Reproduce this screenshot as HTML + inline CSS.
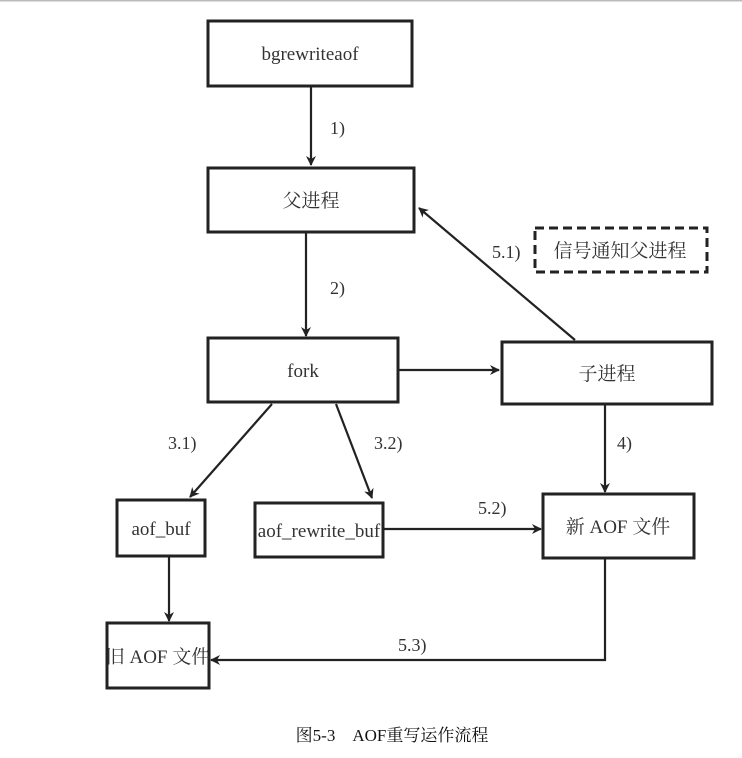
<!DOCTYPE html>
<html><head><meta charset="utf-8"><style>
body{margin:0;background:#fff;}
svg{display:block;}
text{font-family:"Liberation Serif","Noto Serif CJK SC",serif;fill:#333;}
</style></head><body>
<svg width="742" height="758" viewBox="0 0 742 758" xmlns="http://www.w3.org/2000/svg">
<defs>
<marker id="a" markerWidth="10" markerHeight="10" refX="9" refY="5" orient="auto" markerUnits="userSpaceOnUse">
<path d="M0,0 L10,5 L0,10 L3,5 Z" fill="#222"/></marker>
</defs>
<line x1="0" y1="0.5" x2="742" y2="0.5" stroke="#bbb" stroke-width="2"/>
<g fill="none" stroke="#222" stroke-width="3">
<rect x="208" y="21" width="204" height="65"/>
<rect x="208" y="168" width="206" height="64"/>
<rect x="208" y="338" width="190" height="64"/>
<rect x="502" y="342" width="210" height="62"/>
<rect x="117" y="500" width="88" height="56"/>
<rect x="255" y="503" width="128" height="54"/>
<rect x="543" y="494" width="151" height="64"/>
<rect x="107" y="623" width="102" height="65"/>
<rect x="535" y="228" width="172" height="44" stroke-dasharray="9,5"/>
</g>
<g stroke="#222" stroke-width="2.2" fill="none" marker-end="url(#a)">
<line x1="311" y1="86" x2="311" y2="165"/>
<line x1="306" y1="232" x2="306" y2="336"/>
<line x1="398" y1="370" x2="499" y2="370"/>
<line x1="575" y1="340" x2="419" y2="208"/>
<line x1="272" y1="404" x2="190" y2="497"/>
<line x1="336" y1="404" x2="372" y2="498"/>
<line x1="605" y1="404" x2="605" y2="492"/>
<line x1="383" y1="529" x2="541" y2="529"/>
<line x1="169" y1="556" x2="169" y2="621"/>
<polyline points="605,558 605,660 211,660"/>
</g>
<g font-size="19" text-anchor="middle">
<text x="310" y="60">bgrewriteaof</text>
<text x="311" y="207">父进程</text>
<text x="303" y="377">fork</text>
<text x="607" y="380">子进程</text>
<text x="620" y="257">信号通知父进程</text>
<text x="161" y="535">aof_buf</text>
<text x="319" y="537">aof_rewrite_buf</text>
<text x="618" y="533">新 AOF 文件</text>
<text x="158" y="663">旧 AOF 文件</text>
</g>
<g font-size="18">
<text x="330" y="134">1)</text>
<text x="330" y="294">2)</text>
<text x="492" y="258">5.1)</text>
<text x="168" y="449">3.1)</text>
<text x="374" y="449">3.2)</text>
<text x="617" y="449">4)</text>
<text x="478" y="514">5.2)</text>
<text x="398" y="651">5.3)</text>
</g>
<text x="392" y="741" font-size="17" text-anchor="middle" style="fill:#111">图5-3　AOF重写运作流程</text>
</svg>
</body></html>
